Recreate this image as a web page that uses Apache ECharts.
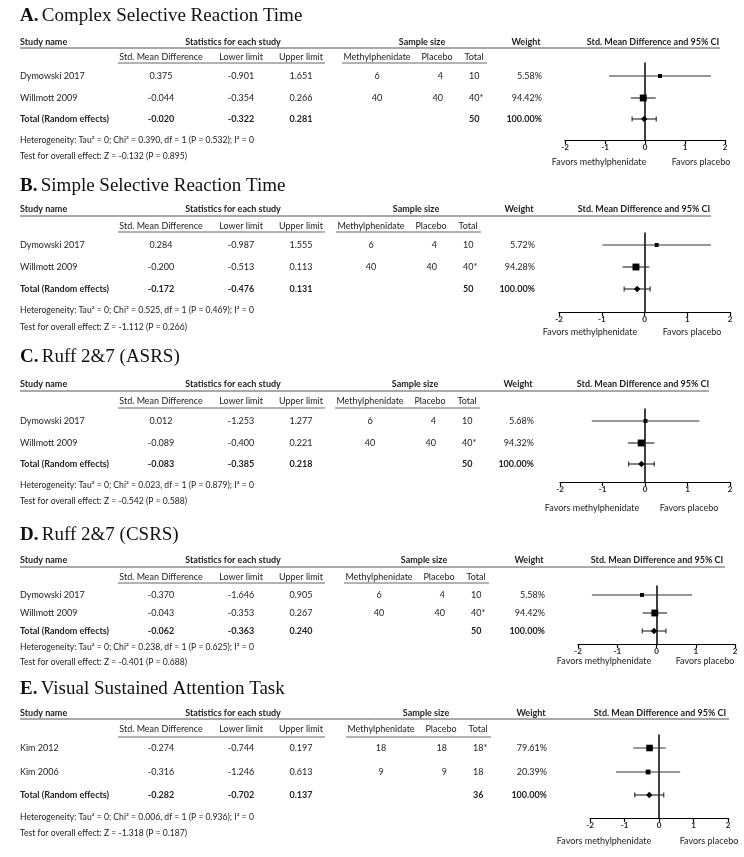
<!DOCTYPE html>
<html>
<head>
<meta charset="utf-8">
<script src="https://cdn.jsdelivr.net/npm/echarts@6/dist/echarts.min.js"></script>
<style>
html,body{margin:0;padding:0;background:#fff;}
#chart{width:744px;height:857px;}
</style>
</head>
<body>
<div id="chart"></div>
<script>
// ---------------- DATA ----------------
const panelLetters = ['A.', 'B.', 'C.', 'D.', 'E.'];
const panelNames = ['Complex Selective Reaction Time', 'Simple Selective Reaction Time', 'Ruff 2&7 (ASRS)', 'Ruff 2&7 (CSRS)', 'Visual Sustained Attention Task'];
const studyNames = [
  ['Dymowski 2017', 'Willmott 2009'],
  ['Dymowski 2017', 'Willmott 2009'],
  ['Dymowski 2017', 'Willmott 2009'],
  ['Dymowski 2017', 'Willmott 2009'],
  ['Kim 2012', 'Kim 2006']
];
const totalRowName = 'Total (Random effects)';
// [study1, study2, total]
const smd = [
  [0.375, -0.044, -0.020],
  [0.284, -0.200, -0.172],
  [0.012, -0.089, -0.083],
  [-0.370, -0.043, -0.062],
  [-0.274, -0.316, -0.282]
];
const lowerLimit = [
  [-0.901, -0.354, -0.322],
  [-0.987, -0.513, -0.476],
  [-1.253, -0.400, -0.385],
  [-1.646, -0.353, -0.363],
  [-0.744, -1.246, -0.702]
];
const upperLimit = [
  [1.651, 0.266, 0.281],
  [1.555, 0.113, 0.131],
  [1.277, 0.221, 0.218],
  [0.905, 0.267, 0.240],
  [0.197, 0.613, 0.137]
];
const nMethylphenidate = [[6, 40], [6, 40], [6, 40], [6, 40], [18, 9]];
const nPlacebo = [[4, 40], [4, 40], [4, 40], [4, 40], [18, 9]];
const nTotalLabels = [
  ['10', '40*', '50'],
  ['10', '40*', '50'],
  ['10', '40*', '50'],
  ['10', '40*', '50'],
  ['18*', '18', '36']
];
const weights = [
  [5.58, 94.42, 100],
  [5.72, 94.28, 100],
  [5.68, 94.32, 100],
  [5.58, 94.42, 100],
  [79.61, 20.39, 100]
];
const chiSq = [0.390, 0.525, 0.023, 0.238, 0.006];
const hetP = [0.532, 0.469, 0.879, 0.625, 0.936];
const zStat = [-0.132, -1.112, -0.542, -0.401, -1.318];
const zP = [0.895, 0.266, 0.588, 0.688, 0.187];
const tickValues = [-2, -1, 0, 1, 2];
const favorsLeft = 'Favors methylphenidate';
const favorsRight = 'Favors placebo';

// ---------------- LAYOUT (pixel positions) ----------------
const L = [
  {title:16, head:42, hline:48, sub:57, sline:63, rows:[76,98,119], het:140, test:156, axisY:140, zTop:63, ax0:565, ax1:725, fav:162, favL:599, favR:701, hRight:720, sampleC:422, weightC:526, forestC:653},
  {title:186, head:209, hline:216, sub:226, sline:232, rows:[245,267,289], het:310, test:327, axisY:312, zTop:233, ax0:559, ax1:730, fav:332, favL:590, favR:692, hRight:711, sampleC:416, weightC:519, forestC:644},
  {title:357, head:384, hline:391, sub:401, sline:408, rows:[421,443,464], het:485, test:501, axisY:482, zTop:409, ax0:560, ax1:730, fav:508, favL:592, favR:689, hRight:709, sampleC:415, weightC:518, forestC:643},
  {title:535, head:560, hline:567, sub:577, sline:583, rows:[595,613,631], het:647, test:662, axisY:644, zTop:586, ax0:578, ax1:735, fav:661, favL:604, favR:705, hRight:725, sampleC:424, weightC:529, forestC:657},
  {title:689, head:713, hline:719, sub:729, sline:737, rows:[748,772,795], het:817, test:833, axisY:818, zTop:735, ax0:590, ax1:728, fav:841, favL:604, favR:709, hRight:729, sampleC:426, weightC:531, forestC:660}
];
const SANS = 'Lato';
const SERIF = '"Liberation Serif", "DejaVu Serif", serif';
const TXT = '#222';
const studyX = 20, smdC = 161, lowC = 241, upC = 301, statC = 233;

function txt(x, y, text, opt) {
  opt = opt || {};
  return {
    type: 'text', silent: true,
    style: {
      x: x, y: y, text: text,
      fill: opt.fill || TXT,
      fontFamily: opt.family || SANS,
      fontSize: opt.size || 9,
      fontWeight: opt.bold ? 'bold' : 'normal',
      align: opt.align || 'left',
      verticalAlign: 'middle'
    }
  };
}
function line(x1, y1, x2, y2, color, w) {
  return {type: 'line', silent: true, shape: {x1, y1, x2, y2}, style: {stroke: color || '#444', lineWidth: w || 1}};
}

const graphics = [];
const grids = [], xAxes = [], yAxes = [], series = [];

L.forEach((p, i) => {
  // Title
  graphics.push({
    type: 'text', silent: true,
    style: {
      x: 20, y: p.title, verticalAlign: 'middle', align: 'left',
      text: '{b|' + panelLetters[i] + '} {n|' + panelNames[i] + '}',
      rich: {
        b: {fontFamily: SERIF, fontSize: 19, fontWeight: 'bold', fill: '#111'},
        n: {fontFamily: SERIF, fontSize: 19, fill: '#111'}
      }
    }
  });
  // Header row
  graphics.push(txt(studyX, p.head, 'Study name', {bold: true}));
  graphics.push(txt(statC, p.head, 'Statistics for each study', {bold: true, align: 'center'}));
  graphics.push(txt(p.sampleC, p.head, 'Sample size', {bold: true, align: 'center'}));
  graphics.push(txt(p.weightC, p.head, 'Weight', {bold: true, align: 'center'}));
  graphics.push(txt(p.forestC, p.head, 'Std. Mean Difference and 95% CI', {bold: true, align: 'center'}));
  graphics.push(line(studyX, p.hline, p.hRight, p.hline, '#555', 1));
  // Sub header
  graphics.push(txt(smdC, p.sub, 'Std. Mean Difference', {align: 'center'}));
  graphics.push(txt(lowC, p.sub, 'Lower limit', {align: 'center'}));
  graphics.push(txt(upC, p.sub, 'Upper limit', {align: 'center'}));
  graphics.push(txt(p.sampleC - 45, p.sub, 'Methylphenidate', {align: 'center'}));
  graphics.push(txt(p.sampleC + 15, p.sub, 'Placebo', {align: 'center'}));
  graphics.push(txt(p.sampleC + 52, p.sub, 'Total', {align: 'center'}));
  graphics.push(line(118, p.sline, 325, p.sline, '#666', 1));
  graphics.push(line(p.sampleC - 80, p.sline, p.sampleC + 65, p.sline, '#666', 1));
  // Rows
  for (let r = 0; r < 3; r++) {
    const y = p.rows[r];
    const bold = r === 2;
    graphics.push(txt(studyX, y, r < 2 ? studyNames[i][r] : totalRowName, {bold}));
    graphics.push(txt(smdC, y, smd[i][r].toFixed(3), {bold, align: 'center'}));
    graphics.push(txt(lowC, y, lowerLimit[i][r].toFixed(3), {bold, align: 'center'}));
    graphics.push(txt(upC, y, upperLimit[i][r].toFixed(3), {bold, align: 'center'}));
    if (r < 2) {
      graphics.push(txt(p.sampleC - 45, y, String(nMethylphenidate[i][r]), {align: 'center'}));
      graphics.push(txt(p.sampleC + 21, y, String(nPlacebo[i][r]), {align: 'right'}));
    }
    graphics.push(txt(p.sampleC + 47, y, nTotalLabels[i][r], {bold, align: 'left'}));
    graphics.push(txt(p.weightC + 16, y, weights[i][r].toFixed(2) + '%', {bold, align: 'right'}));
  }
  graphics.push(txt(studyX, p.het, 'Heterogeneity: Tau\u00b2 = 0; Chi\u00b2 = ' + chiSq[i].toFixed(3) + ', df = 1 (P = ' + hetP[i].toFixed(3) + '); I\u00b2 = 0', {size: 8.6}));
  graphics.push(txt(studyX, p.test, 'Test for overall effect: Z = ' + zStat[i].toFixed(3) + ' (P = ' + zP[i].toFixed(3) + ')', {size: 8.6}));
  graphics.push(txt(p.favL, p.fav, favorsLeft, {align: 'center', size: 9}));
  graphics.push(txt(p.favR, p.fav, favorsRight, {align: 'center', size: 9}));

  // Forest plot grid
  const sp = (p.rows[2] - p.rows[0]) / 2;
  grids.push({left: p.ax0, width: p.ax1 - p.ax0, top: p.zTop, height: p.axisY - p.zTop, containLabel: false});
  xAxes.push({
    type: 'value', gridIndex: i,
    min: tickValues[0], max: tickValues[tickValues.length - 1], interval: 1,
    axisLine: {show: true, onZero: false, lineStyle: {color: '#000', width: 1.2}},
    axisTick: {show: true, length: 4, lineStyle: {color: '#000', width: 1.2}},
    axisLabel: {show: true, margin: 3, fontSize: 8, fontWeight: 'bold', color: '#222', fontFamily: SANS},
    splitLine: {show: false}
  });
  yAxes.push({
    type: 'value', gridIndex: i, inverse: true,
    min: (p.zTop - p.rows[0]) / sp, max: (p.axisY - p.rows[0]) / sp,
    axisLine: {show: true, onZero: true, lineStyle: {color: '#000', width: 1.5}},
    axisTick: {show: false}, axisLabel: {show: false}, splitLine: {show: false}
  });
  const rowPos = [0, (p.rows[1] - p.rows[0]) / sp, 2];
  const data = [0, 1, 2].map(r => [smd[i][r], lowerLimit[i][r], upperLimit[i][r], rowPos[r], weights[i][r], r === 2 ? 1 : 0]);
  series.push({
    type: 'custom', xAxisIndex: i, yAxisIndex: i, silent: true,
    encode: {x: [0, 1, 2], y: 3},
    data: data,
    renderItem: function (params, api) {
      const m = api.value(0), lo = api.value(1), hi = api.value(2), row = api.value(3), w = api.value(4), tot = api.value(5);
      const pl = api.coord([lo, row]), pr = api.coord([hi, row]), pm = api.coord([m, row]);
      const children = [{type: 'line', shape: {x1: pl[0], y1: pl[1], x2: pr[0], y2: pr[1]}, style: {stroke: '#333', lineWidth: 1.2}}];
      if (tot) {
        children.push({type: 'line', shape: {x1: pl[0], y1: pl[1] - 2.5, x2: pl[0], y2: pl[1] + 2.5}, style: {stroke: '#333', lineWidth: 1.2}});
        children.push({type: 'line', shape: {x1: pr[0], y1: pr[1] - 2.5, x2: pr[0], y2: pr[1] + 2.5}, style: {stroke: '#333', lineWidth: 1.2}});
        const d = 3.2;
        children.push({type: 'polygon', shape: {points: [[pm[0], pm[1] - d], [pm[0] + d, pm[1]], [pm[0], pm[1] + d], [pm[0] - d, pm[1]]]}, style: {fill: '#000'}});
      } else {
        const s = 3 + 4 * Math.sqrt(w / 100);
        children.push({type: 'rect', shape: {x: pm[0] - s / 2, y: pm[1] - s / 2, width: s, height: s}, style: {fill: '#000'}});
      }
      return {type: 'group', children: children};
    }
  });
});

const chart = echarts.init(document.getElementById('chart'), null, {renderer: 'canvas'});
chart.setOption({
  animation: false,
  backgroundColor: '#fff',
  grid: grids,
  xAxis: xAxes,
  yAxis: yAxes,
  series: series,
  graphic: graphics
});
</script>
</body>
</html>
